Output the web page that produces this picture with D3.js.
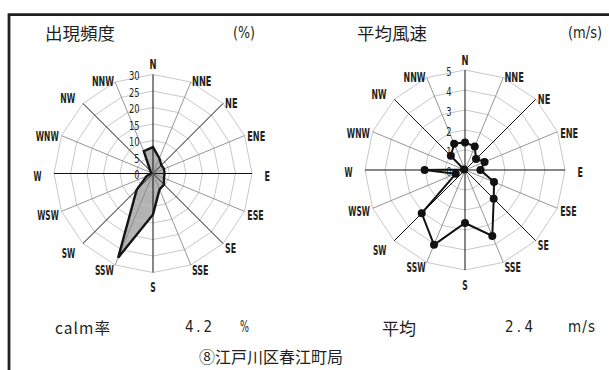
<!DOCTYPE html>
<html>
<head>
    <meta charset="UTF-8">
    <title>江戸川区春江町局 風配図</title>
    <script type="text/javascript" src="https://d3js.org/d3.v7.min.js"></script>
    <style>
        body { margin: 0; background: #fff; }
        svg { display: block; }
        .dir, .tick { font-family: "DejaVu Sans Condensed", "DejaVu Sans", sans-serif; font-stretch: condensed; fill: #231f20; }
        .dir { font-size: 13.5px; font-weight: bold; }
        .tick { font-size: 13px; }
        .jp { font-family: "Noto Sans CJK JP", sans-serif; fill: #231f20; }
        .num { font-family: "DejaVu Sans Condensed", "DejaVu Sans", sans-serif; font-stretch: condensed; fill: #231f20; }
    </style>
</head>
<body>
<div id="chart"></div>
<script>
    // 16 directions, clockwise from north
    var directions = ["N", "NNE", "NE", "ENE", "E", "ESE", "SE", "SSE",
                      "S", "SSW", "SW", "WSW", "W", "WNW", "NW", "NNW"];

    // 出現頻度 (%)
    var freqTicks = [0, 5, 10, 15, 20, 25, 30];
    var freqValues = [8.0, 5.0, 3.6, 3.6, 3.5, 3.6, 4.7, 5.2,
                      12.4, 27.6, 7.0, 2.1, 0.7, 0.5, 1.2, 7.3];

    // 平均風速 (m/s)
    var speedTicks = [0, 1, 2, 3, 4, 5];
    var speedValues = [1.38, 1.27, 0.78, 1.06, 0.77, 1.57, 2.03, 3.57,
                       2.65, 4.05, 3.06, 0.5, 2.02, 0.05, 1.0, 1.42];

    var calmRate = "4.2";
    var meanSpeed = "2.4";
    var station = "⑧江戸川区春江町局";

    var width = 609, height = 370;
    var ink = "#231f20";

    // rough glyph widths of the narrow label face
    var glyphW = { N: 7, E: 5.5, S: 5.5, W: 8 };

    var svg = d3.select("#chart").append("svg")
        .attr("width", width).attr("height", height);

    var step = 2 * Math.PI / directions.length;

    function drawRose(cx, cy, R, ticks, values, kind) {
        var g = svg.append("g").attr("transform", "translate(" + cx + "," + cy + ")");
        var r = d3.scaleLinear().domain([0, d3.max(ticks)]).range([0, R]);

        var ring = d3.lineRadial()
            .angle(function (d, i) { return i * step; })
            .radius(function (d) { return d; })
            .curve(d3.curveLinearClosed);

        var shape = d3.lineRadial()
            .angle(function (d, i) { return i * step; })
            .radius(function (d) { return r(d); })
            .curve(d3.curveLinearClosed);

        if (kind === "area") {
            g.append("path")
                .attr("d", shape(values))
                .attr("fill", "#b3b3b3")
                .attr("stroke", "none");
        }

        // rings
        g.selectAll(".ring")
            .data(ticks.filter(function (t) { return t > 0; }))
            .enter().append("path")
            .attr("class", "ring")
            .attr("d", function (t) { return ring(directions.map(function () { return r(t); })); })
            .attr("fill", "none")
            .attr("stroke", "#c2c2c2")
            .attr("stroke-width", 0.9);

        // spokes
        g.selectAll(".spoke")
            .data(directions)
            .enter().append("line")
            .attr("class", "spoke")
            .attr("x1", 0).attr("y1", 0)
            .attr("x2", function (d, i) { return R * Math.sin(i * step); })
            .attr("y2", function (d, i) { return -R * Math.cos(i * step); })
            .attr("stroke", function (d, i) { return i % 2 === 0 ? "#111" : "#8a8a8a"; })
            .attr("stroke-width", function (d, i) { return i % 2 === 0 ? 1 : 0.9; });

        // tick labels
        g.selectAll(".tick")
            .data(ticks)
            .enter().append("text")
            .attr("class", "tick")
            .attr("x", -13.5)
            .attr("y", function (t) { return -r(t) + 1; })
            .attr("text-anchor", "end")
            .attr("dominant-baseline", "central")
            .attr("textLength", function (t) { return String(t).length * 5.3; })
            .attr("lengthAdjust", "spacingAndGlyphs")
            .text(function (t) { return t; });

        // direction labels
        g.selectAll(".dir")
            .data(directions)
            .enter().append("text")
            .attr("class", "dir")
            .each(function (d, i) {
                var a = i * step, s = Math.sin(a), c = Math.cos(a);
                var off = (Math.abs(s) < 0.01 || Math.abs(c) < 0.01) ? 12.5 : 3;
                if (s < -0.5 && Math.abs(c) > 0.5) off += 8;
                var anchor = s > 0.01 ? "start" : (s < -0.01 ? "end" : "middle");
                var w = d3.sum(d.split(""), function (ch) { return glyphW[ch]; });
                d3.select(this)
                    .attr("x", (R + off) * s)
                    .attr("y", -(R + off) * c + 2)
                    .attr("text-anchor", anchor)
                    .attr("dominant-baseline", "central")
                    .attr("textLength", w)
                    .attr("lengthAdjust", "spacingAndGlyphs");
            })
            .text(function (d) { return d; });

        if (kind === "area") {
            g.append("path")
                .attr("d", shape(values))
                .attr("fill", "none")
                .attr("stroke", "#151515")
                .attr("stroke-width", 2.4)
                .attr("stroke-linejoin", "miter");
        } else {
            g.append("path")
                .attr("d", shape(values))
                .attr("fill", "none")
                .attr("stroke", "#111")
                .attr("stroke-width", 2);
            g.selectAll(".dot")
                .data(values)
                .enter().append("circle")
                .attr("class", "dot")
                .attr("cx", function (v, i) { return r(v) * Math.sin(i * step); })
                .attr("cy", function (v, i) { return -r(v) * Math.cos(i * step); })
                .attr("r", 4)
                .attr("fill", "#111");
        }
    }

    drawRose(153, 173.5, 99, freqTicks, freqValues, "area");
    drawRose(465, 170, 100, speedTicks, speedValues, "line");

    // frame
    svg.append("path")
        .attr("d", "M9,370 V14.6 H609")
        .attr("fill", "none")
        .attr("stroke", ink)
        .attr("stroke-width", 2.8);

    // titles
    svg.append("text").attr("class", "jp")
        .attr("x", 45).attr("y", 32.5)
        .attr("dominant-baseline", "central")
        .style("font-size", "17.5px")
        .text("出現頻度");
    svg.append("text").attr("class", "num")
        .attr("x", 233).attr("y", 32.5)
        .attr("dominant-baseline", "central")
        .attr("textLength", 22).attr("lengthAdjust", "spacingAndGlyphs")
        .style("font-size", "15px")
        .text("(%)");
    svg.append("text").attr("class", "jp")
        .attr("x", 357).attr("y", 32.5)
        .attr("dominant-baseline", "central")
        .style("font-size", "17.5px")
        .text("平均風速");
    svg.append("text").attr("class", "num")
        .attr("x", 568).attr("y", 32.5)
        .attr("dominant-baseline", "central")
        .attr("textLength", 34).attr("lengthAdjust", "spacingAndGlyphs")
        .style("font-size", "15px")
        .text("(m/s)");

    // bottom row
    var bottomY = 327;
    svg.append("text").attr("class", "jp")
        .attr("x", 55).attr("y", bottomY)
        .attr("dominant-baseline", "central")
        .attr("textLength", 55).attr("lengthAdjust", "spacing")
        .style("font-size", "15.5px")
        .text("calm率");
    svg.append("text").attr("class", "num")
        .attr("x", 185).attr("y", bottomY)
        .attr("dominant-baseline", "central")
        .attr("textLength", 27).attr("lengthAdjust", "spacing")
        .style("font-size", "15px")
        .text(calmRate);
    svg.append("text").attr("class", "num")
        .attr("x", 240).attr("y", bottomY)
        .attr("dominant-baseline", "central")
        .attr("textLength", 9).attr("lengthAdjust", "spacingAndGlyphs")
        .style("font-size", "15px")
        .text("%");
    svg.append("text").attr("class", "jp")
        .attr("x", 382).attr("y", bottomY)
        .attr("dominant-baseline", "central")
        .style("font-size", "17px")
        .text("平均");
    svg.append("text").attr("class", "num")
        .attr("x", 505).attr("y", bottomY)
        .attr("dominant-baseline", "central")
        .attr("textLength", 28).attr("lengthAdjust", "spacing")
        .style("font-size", "15px")
        .text(meanSpeed);
    svg.append("text").attr("class", "num")
        .attr("x", 568).attr("y", bottomY)
        .attr("dominant-baseline", "central")
        .attr("textLength", 27).attr("lengthAdjust", "spacing")
        .style("font-size", "15px")
        .text("m/s");

    svg.append("text").attr("class", "jp")
        .attr("x", 271).attr("y", 356)
        .attr("text-anchor", "middle")
        .attr("dominant-baseline", "central")
        .style("font-size", "16px")
        .text(station);
</script>
</body>
</html>
